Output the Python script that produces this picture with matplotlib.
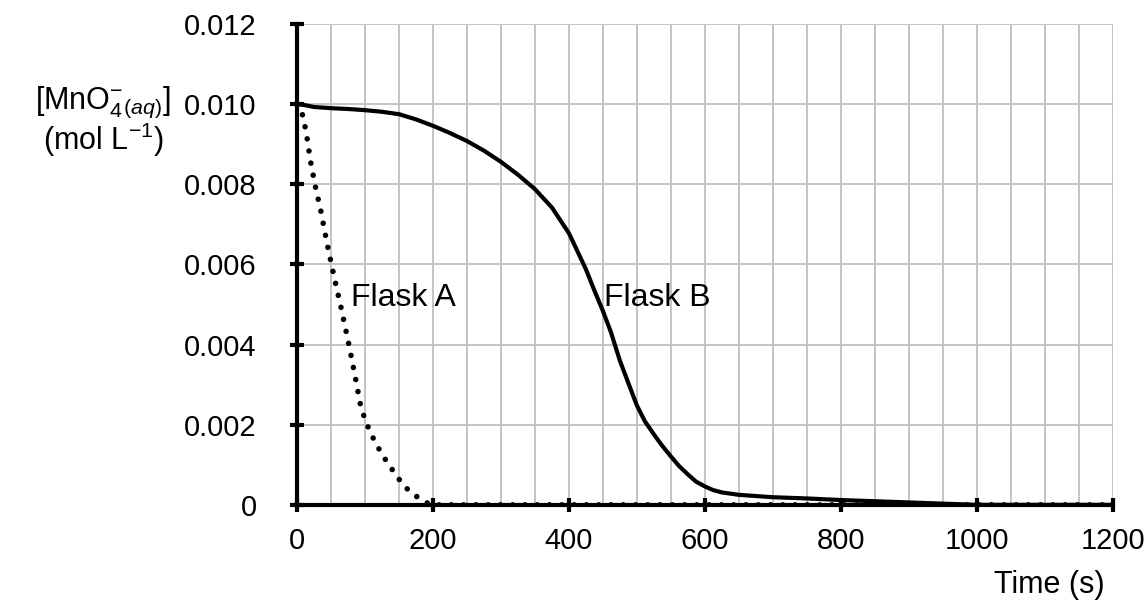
import matplotlib.pyplot as plt
import numpy as np

plt.rcParams['font.family'] = ['Liberation Sans', 'DejaVu Sans']
plt.rcParams['mathtext.fontset'] = 'custom'
plt.rcParams['mathtext.rm'] = 'Liberation Sans'
plt.rcParams['mathtext.it'] = 'Liberation Sans:italic'

# Flask A (dotted)
time_a = [0, 5, 10, 15, 20, 27, 35, 45, 55, 65, 75, 85, 93, 100, 110, 120, 130, 140,
          150, 160, 170, 180, 190, 197, 1200]
conc_a = [0.0100, 0.00992, 0.00960, 0.00912, 0.00855, 0.00794, 0.00733, 0.00645,
          0.00565, 0.00490, 0.00410, 0.00325, 0.00252, 0.00212, 0.00173, 0.00141,
          0.00113, 0.00088, 0.00064, 0.00043, 0.00028, 0.00016, 0.00006, 0.0, 0.0]

# Flask B (solid)
time_b = [0, 10, 25, 50, 75, 100, 125, 150, 175, 200, 225, 250, 275, 300, 325, 350,
          375, 400, 412, 425, 437, 450, 462, 475, 487, 500, 512, 525, 537, 550, 562,
          575, 587, 600, 612, 625, 650, 700, 750, 800, 850, 900, 950, 1000, 1200]
conc_b = [0.0100, 0.00998, 0.00993, 0.00990, 0.00988, 0.00985, 0.00981, 0.00975,
          0.00962, 0.00946, 0.00928, 0.00908, 0.00884, 0.00856, 0.00824, 0.00788,
          0.00742, 0.00678, 0.00635, 0.00588, 0.00537, 0.00484, 0.00430, 0.00360,
          0.00306, 0.00248, 0.00208, 0.00176, 0.00148, 0.00121, 0.00097, 0.00076,
          0.00058, 0.00046, 0.00037, 0.00031, 0.00025, 0.00019, 0.00016, 0.00012,
          0.00009, 0.00006, 0.00003, 0.0, 0.0]

x_ticks = [0, 200, 400, 600, 800, 1000, 1200]
y_ticks = [0, 0.002, 0.004, 0.006, 0.008, 0.010, 0.012]
y_labels = ['0', '0.002', '0.004', '0.006', '0.008', '0.010', '0.012']

fig = plt.figure(figsize=(11.47, 6.01), dpi=100)
ax = fig.add_axes([0.259, 0.160, 0.711, 0.800])

ax.plot(time_b, conc_b, color='black', lw=3, solid_capstyle='round',
        solid_joinstyle='round', zorder=3)
ax.plot(time_a, conc_a, color='black', lw=4, linestyle=(0, (0.01, 2.2)),
        dash_capstyle='round', zorder=3)

ax.set_xlim(0, 1200)
ax.set_ylim(0, 0.012)
ax.set_xticks(x_ticks)
ax.set_xticklabels([str(t) for t in x_ticks])
ax.set_xticks(np.arange(0, 1201, 50), minor=True)
ax.set_yticks(y_ticks)
ax.set_yticklabels(y_labels)

ax.grid(which='minor', axis='x', color='#bfbfbf', lw=1.3)
ax.grid(which='major', axis='both', color='#bfbfbf', lw=1.3)
ax.set_axisbelow(True)

for s in ['top', 'right']:
    ax.spines[s].set_visible(False)
for s in ['left', 'bottom']:
    ax.spines[s].set_linewidth(3)
    ax.spines[s].set_zorder(4)

ax.tick_params(which='major', direction='inout', length=10, width=3,
               labelsize=21, pad=11)
ax.tick_params(axis='y', pad=24)
ax.tick_params(which='minor', length=0)

ax.text(80, 0.00515, 'Flask A', fontsize=23, va='center', ha='left')
ax.text(452, 0.00515, 'Flask B', fontsize=23, va='center', ha='left')

fig.text(0.963, 0.027, 'Time (s)', fontsize=22, ha='right', va='center')
fig.text(0.090, 0.830, r'[MnO$_4^{-}$$_{\mathit{(aq)}}$]', fontsize=22,
         ha='center', va='center')
fig.text(0.090, 0.767, r'(mol L$^{\mathregular{-1}}$)', fontsize=22,
         ha='center', va='center')

fig.savefig('out.png', dpi=100)
